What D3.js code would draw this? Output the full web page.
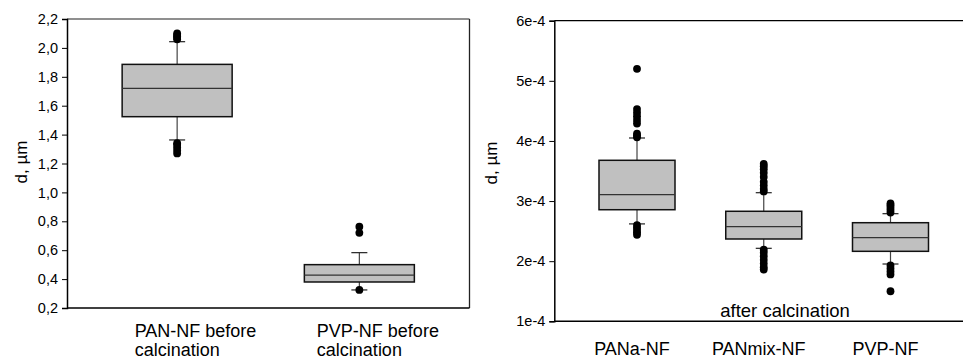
<!DOCTYPE html>
<html>
<head>
<meta charset="utf-8">
<script src="https://cdn.jsdelivr.net/npm/d3@7"></script>
<style>
  html, body { margin: 0; padding: 0; background: #fff; }
  svg { display: block; font-family: "Liberation Sans", Arial, sans-serif; }
</style>
</head>
<body>
<svg id="chart" width="963" height="359"></svg>
<script>
// Fibre diameters before calcination (µm)
const beforeCategories = ["PAN-NF before\ncalcination", "PVP-NF before\ncalcination"];
const beforeWhiskerLow = [1.363, 0.325];
const beforeQ1 = [1.524, 0.38];
const beforeMedian = [1.72, 0.428];
const beforeQ3 = [1.886, 0.50];
const beforeWhiskerHigh = [2.043, 0.583];
const beforeOutliers = [
  [2.06, 2.07, 2.08, 2.09, 2.10, 1.34, 1.33, 1.31, 1.29, 1.27],
  [0.763, 0.72, 0.325]
];
const beforeTicks = [0.2, 0.4, 0.6, 0.8, 1.0, 1.2, 1.4, 1.6, 1.8, 2.0, 2.2];

// Fibre diameters after calcination
const afterCategories = ["PANa-NF", "PANmix-NF", "PVP-NF"];
const afterWhiskerLow = [2.62e-4, 2.214e-4, 1.953e-4];
const afterQ1 = [2.856e-4, 2.369e-4, 2.164e-4];
const afterMedian = [3.106e-4, 2.574e-4, 2.391e-4];
const afterQ3 = [3.678e-4, 2.83e-4, 2.64e-4];
const afterWhiskerHigh = [4.049e-4, 3.139e-4, 2.79e-4];
const afterOutliers = [
  [4.06e-4, 4.09e-4, 4.12e-4, 4.29e-4, 4.35e-4, 4.41e-4, 4.47e-4, 4.53e-4, 5.2e-4,
   2.60e-4, 2.56e-4, 2.52e-4, 2.48e-4, 2.44e-4],
  [3.16e-4, 3.2e-4, 3.26e-4, 3.32e-4, 3.4e-4, 3.47e-4, 3.53e-4, 3.58e-4, 3.62e-4,
   2.19e-4, 2.14e-4, 2.08e-4, 2.02e-4, 1.96e-4, 1.9e-4, 1.86e-4],
  [2.81e-4, 2.85e-4, 2.89e-4, 2.93e-4, 2.96e-4,
   1.93e-4, 1.88e-4, 1.83e-4, 1.78e-4, 1.5e-4]
];
const afterTicks = [1e-4, 2e-4, 3e-4, 4e-4, 5e-4, 6e-4];
const afterNote = "after calcination";
const yLabel = "d, µm";

const svg = d3.select("#chart");
const BOX_FILL = "#c0c0c0";

function drawPanel(opt) {
  const g = svg.append("g");
  const y = d3.scaleLinear().domain(opt.yDomain).range([opt.bottom, opt.top]);
  const x = d3.scalePoint().domain(opt.categories.map((c, i) => i))
    .range([opt.left, opt.right]).padding(opt.padding);

  // frame
  g.append("line").attr("x1", opt.left).attr("x2", opt.right)
    .attr("y1", opt.top).attr("y2", opt.top)
    .attr("stroke", opt.topColor).attr("stroke-width", 1.3);
  g.append("line").attr("x1", opt.right).attr("x2", opt.right)
    .attr("y1", opt.top).attr("y2", opt.bottom)
    .attr("stroke", "#222").attr("stroke-width", 1.3);
  g.append("line").attr("x1", opt.left).attr("x2", opt.right)
    .attr("y1", opt.bottom).attr("y2", opt.bottom)
    .attr("stroke", "#000").attr("stroke-width", 1.5);

  // y axis
  const axis = d3.axisLeft(y).tickValues(opt.ticks).tickSize(5).tickPadding(4)
    .tickFormat(opt.format);
  const ag = g.append("g").attr("transform", `translate(${opt.left},0)`).call(axis);
  ag.select(".domain").attr("stroke", "#000").attr("stroke-width", 1.5);
  ag.selectAll(".tick line").attr("stroke", "#000");
  ag.selectAll(".tick text").attr("font-size", 14.5).attr("fill", "#000")
    .attr("font-family", "'Liberation Sans', Arial, sans-serif");

  // y label
  g.append("text")
    .attr("transform", `translate(${opt.yLabelX},${opt.yLabelY}) rotate(-90)`)
    .attr("text-anchor", "middle").attr("font-size", 17).attr("fill", "#000")
    .text(yLabel);

  const half = opt.boxWidth / 2, cap = 8;
  opt.categories.forEach((c, i) => {
    const cx = x(i);
    const bg = g.append("g");
    // whiskers
    bg.append("line").attr("x1", cx).attr("x2", cx)
      .attr("y1", y(opt.q3[i])).attr("y2", y(opt.wHigh[i]))
      .attr("stroke", "#444").attr("stroke-width", 1.2);
    bg.append("line").attr("x1", cx).attr("x2", cx)
      .attr("y1", y(opt.q1[i])).attr("y2", y(opt.wLow[i]))
      .attr("stroke", "#444").attr("stroke-width", 1.2);
    [opt.wHigh[i], opt.wLow[i]].forEach(v => {
      bg.append("line").attr("x1", cx - cap).attr("x2", cx + cap)
        .attr("y1", y(v)).attr("y2", y(v))
        .attr("stroke", "#222").attr("stroke-width", 1.2);
    });
    // box
    bg.append("rect").attr("x", cx - half).attr("width", opt.boxWidth)
      .attr("y", y(opt.q3[i])).attr("height", y(opt.q1[i]) - y(opt.q3[i]))
      .attr("fill", BOX_FILL).attr("stroke", "#111").attr("stroke-width", 1.5);
    bg.append("line").attr("x1", cx - half).attr("x2", cx + half)
      .attr("y1", y(opt.median[i])).attr("y2", y(opt.median[i]))
      .attr("stroke", "#333").attr("stroke-width", 1.3);
    // outliers
    bg.selectAll("circle").data(opt.outliers[i]).join("circle")
      .attr("cx", cx).attr("cy", d => y(d)).attr("r", 3.9).attr("fill", "#000");

    // category label, one text element per line
    const lines = c.split("\n");
    lines.forEach((ln, k) => {
      g.append("text").attr("font-size", 18).attr("fill", "#000")
        .attr("x", cx + opt.labelDx)
        .attr("y", opt.labelY + k * 18.5)
        .attr("text-anchor", lines.length > 1 ? "start" : "middle")
        .text(ln);
    });
  });
  return { g, x, y };
}

drawPanel({
  categories: beforeCategories,
  yDomain: [0.2, 2.2], ticks: beforeTicks,
  format: d => d3.format(".1f")(d).replace(".", ","),
  left: 67, right: 469.5, top: 19, bottom: 308, padding: 0.6045,
  boxWidth: 110, topColor: "#6a6a6a",
  q1: beforeQ1, median: beforeMedian, q3: beforeQ3,
  wLow: beforeWhiskerLow, wHigh: beforeWhiskerHigh, outliers: beforeOutliers,
  yLabelX: 27, yLabelY: 162, labelDx: -42.5, labelY: 337
});

const right = drawPanel({
  categories: afterCategories,
  yDomain: [1e-4, 6e-4], ticks: afterTicks,
  format: d => `${Math.round(d * 1e4)}e-4`,
  left: 554.3, right: 973.2, top: 20.7, bottom: 321.3, padding: 0.6525,
  boxWidth: 76, topColor: "#000",
  q1: afterQ1, median: afterMedian, q3: afterQ3,
  wLow: afterWhiskerLow, wHigh: afterWhiskerHigh, outliers: afterOutliers,
  yLabelX: 497, yLabelY: 163, labelDx: -5, labelY: 355
});

right.g.append("text")
  .attr("x", right.x(1) - 43.5).attr("y", 316.5)
  .attr("font-size", 18.5).attr("fill", "#000")
  .text(afterNote);
</script>
</body>
</html>
